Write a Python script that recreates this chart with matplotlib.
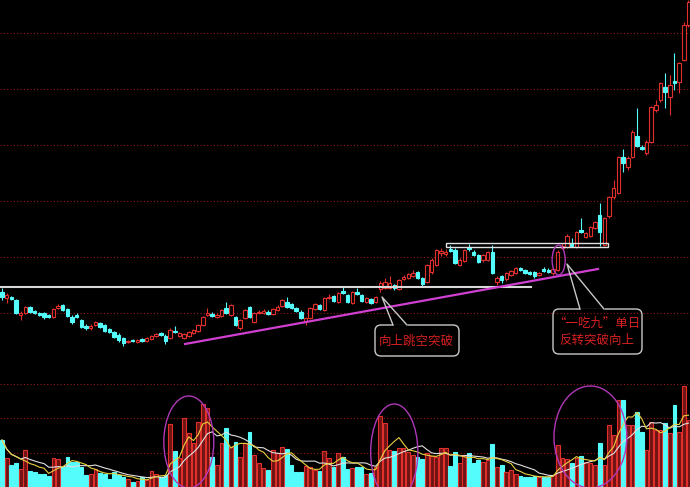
import matplotlib
matplotlib.use("Agg")
import matplotlib.pyplot as plt
from matplotlib.patches import Rectangle, Ellipse, FancyBboxPatch
import numpy as np
import pandas as pd

plt.rcParams['font.family'] = ['Noto Sans CJK SC', 'DejaVu Sans']

# daily bars
opens = [10.8, 10.2, 10.3, 10.0, 8.5, 8.7, 9.3, 8.9, 8.7, 8.7,
         8.5, 8.3, 9.2, 9.5, 9.1, 8.3, 8.5, 8.0, 7.4, 7.2,
         7.5, 7.7, 7.5, 7.1, 6.8, 6.5, 6.2, 5.8, 6.0, 5.8,
         6.1, 5.9, 6.1, 6.4, 6.7, 6.4, 6.2, 6.9, 6.4, 6.2,
         6.4, 6.7, 6.9, 7.5, 8.5, 8.6, 8.3, 8.4, 9.2, 8.5,
         8.3, 7.2, 8.2, 9.3, 7.8, 8.7, 8.7, 8.8, 8.6, 9.0,
         9.4, 9.8, 9.6, 9.2, 8.8, 7.8, 8.2, 9.1, 9.5, 9.0,
         10.2, 10.4, 9.8, 10.9, 10.5, 9.7, 10.8, 10.5, 9.8, 10.1,
         9.8, 11.1, 11.2, 11.2, 11.5, 11.1, 12.1, 12.2, 12.4, 12.8,
         12.2, 11.8, 12.8, 13.5, 14.7, 14.6, 15.1, 15.0, 13.5, 13.9,
         15.3, 14.8, 14.5, 14.0, 14.0, 14.8, 11.8, 12.4, 12.1, 12.5,
         12.7, 13.2, 13.0, 12.8, 12.8, 12.5, 13.1, 13.0, 12.7, 13.0,
         15.2, 15.3, 15.6, 15.3, 17.0, 16.3, 16.4, 17.2, 18.5, 15.5,
         18.4, 20.3, 20.7, 24.3, 23.3, 24.3, 26.4, 25.3, 24.7, 25.8,
         29.0, 30.0, 31.3, 30.3, 31.9, 31.8, 34.0, 37.5]
closes = [10.3, 10.5, 10.1, 8.7, 8.7, 9.3, 8.8, 8.7, 8.5, 8.3,
          8.3, 9.1, 9.4, 9.0, 8.4, 7.8, 8.3, 7.3, 7.2, 7.4,
          7.8, 7.3, 6.9, 6.8, 6.3, 6.0, 5.7, 5.9, 5.9, 6.0,
          5.9, 6.2, 6.4, 6.6, 6.5, 5.9, 7.0, 6.8, 6.7, 6.6,
          6.8, 7.0, 7.5, 8.3, 8.7, 8.4, 8.5, 9.0, 8.7, 9.5,
          7.5, 8.0, 9.0, 8.3, 8.7, 8.8, 8.9, 8.6, 9.1, 9.3,
          10.0, 9.3, 9.2, 8.9, 8.2, 8.2, 9.2, 9.6, 9.1, 10.2,
          10.3, 9.9, 10.7, 10.7, 9.8, 10.8, 10.6, 9.9, 10.2, 9.7,
          10.3, 11.7, 11.8, 11.7, 11.2, 12.0, 12.3, 12.6, 12.7, 12.2,
          11.6, 13.5, 14.0, 15.0, 14.9, 14.8, 14.9, 13.7, 14.0, 15.0,
          15.1, 14.5, 13.8, 14.5, 14.8, 12.7, 12.2, 12.0, 12.7, 12.9,
          13.2, 13.0, 12.7, 12.6, 12.4, 12.7, 12.9, 12.8, 13.1, 14.8,
          15.4, 16.4, 15.4, 16.8, 16.8, 16.7, 17.3, 17.8, 16.8, 18.2,
          20.3, 21.2, 24.3, 23.7, 24.2, 26.8, 25.4, 25.1, 25.8, 29.3,
          29.5, 31.7, 30.8, 31.5, 31.7, 33.7, 37.5, 39.8]
highs = [11.2, 10.7, 10.4, 10.1, 8.9, 9.4, 9.4, 9.0, 8.8, 8.8,
         8.6, 9.2, 9.6, 9.6, 9.2, 8.5, 8.7, 8.1, 7.6, 7.6,
         7.9, 7.8, 7.6, 7.2, 6.9, 6.7, 6.3, 6.0, 6.1, 6.1,
         6.2, 6.3, 6.5, 6.7, 6.8, 6.6, 7.2, 7.4, 6.8, 6.7,
         6.9, 7.1, 7.6, 8.4, 9.2, 8.8, 8.7, 9.1, 9.8, 9.6,
         8.4, 8.1, 9.1, 9.4, 8.8, 9.0, 9.1, 9.0, 9.2, 9.5,
         10.1, 10.3, 9.7, 9.3, 9.0, 8.3, 9.3, 9.7, 9.6, 10.3,
         10.6, 10.5, 10.8, 11.3, 10.6, 10.9, 11.2, 10.6, 10.3, 10.2,
         10.4, 11.9, 12.2, 12.4, 11.6, 12.1, 12.5, 12.7, 13.0, 12.9,
         12.3, 13.6, 14.2, 15.1, 15.2, 15.1, 15.5, 15.2, 14.2, 15.1,
         15.6, 15.0, 14.6, 14.6, 14.9, 15.5, 12.4, 12.5, 12.8, 13.0,
         13.3, 13.3, 13.1, 12.9, 12.9, 12.8, 13.3, 13.2, 13.2, 15.0,
         15.7, 16.6, 16.2, 16.9, 18.2, 16.8, 17.4, 17.9, 19.7, 18.3,
         20.4, 22.0, 24.4, 25.1, 24.4, 27.0, 29.2, 25.5, 26.0, 29.4,
         30.0, 31.8, 32.7, 32.5, 34.7, 33.8, 37.8, 40.0]
lows = [10.0, 9.7, 10.0, 8.6, 8.0, 8.6, 8.7, 8.6, 8.4, 8.1,
        8.2, 8.2, 9.1, 8.9, 8.3, 7.6, 8.2, 7.2, 7.0, 7.0,
        7.4, 7.2, 6.8, 6.7, 6.2, 5.8, 5.4, 5.7, 5.8, 5.7,
        5.8, 5.8, 6.0, 6.3, 6.4, 5.6, 6.1, 6.7, 6.3, 6.1,
        6.3, 6.6, 6.8, 7.4, 8.4, 8.3, 8.2, 8.3, 8.6, 8.4,
        7.4, 7.0, 8.1, 8.2, 7.7, 8.6, 8.6, 8.5, 8.5, 8.9,
        9.3, 9.2, 9.1, 8.8, 8.1, 7.5, 8.1, 9.0, 9.0, 8.9,
        10.1, 9.8, 9.7, 10.6, 9.7, 9.6, 10.5, 9.8, 9.7, 9.6,
        9.7, 10.8, 11.1, 11.1, 11.0, 11.0, 12.0, 12.1, 12.3, 12.1,
        11.3, 11.7, 12.6, 13.4, 14.4, 14.4, 14.8, 13.6, 13.4, 13.8,
        14.9, 14.4, 13.7, 13.8, 13.9, 12.6, 11.5, 11.7, 11.9, 12.4,
        12.6, 12.9, 12.6, 12.5, 12.2, 12.4, 12.8, 12.7, 12.5, 12.9,
        15.1, 15.2, 15.3, 15.2, 16.7, 16.2, 16.3, 17.1, 15.4, 15.4,
        18.2, 20.1, 20.6, 22.8, 23.0, 24.2, 25.3, 25.0, 24.5, 25.7,
        28.8, 29.8, 29.2, 28.5, 31.0, 30.7, 33.9, 37.3]
volumes = [47, 29, 22, 24, 18, 37, 16, 15, 13, 13,
           11, 29, 28, 20, 30, 25, 25, 20, 12, 13,
           18, 14, 13, 8, 15, 12, 10, 8, 5, 6,
           10, 7, 16, 13, 10, 12, 63, 36, 29, 69,
           54, 44, 65, 83, 79, 30, 22, 44, 59, 40,
           45, 30, 44, 55, 32, 24, 19, 17, 37, 34,
           40, 38, 22, 15, 15, 21, 20, 17, 16, 36,
           29, 20, 34, 30, 18, 19, 20, 20, 13, 14,
           20, 71, 64, 37, 36, 39, 39, 35, 32, 30,
           28, 34, 31, 30, 39, 39, 21, 35, 24, 32,
           34, 24, 27, 25, 27, 43, 20, 22, 15, 17,
           13, 11, 10, 10, 11, 10, 10, 10, 12, 42,
           29, 28, 24, 29, 31, 25, 24, 22, 44, 22,
           62, 52, 87, 87, 62, 62, 75, 55, 37, 65,
           57, 57, 64, 54, 82, 55, 101, 67]

# hand-drawn marks on the chart
support_level = 11.3
support_end = 113.5
trend_x = [39.2, 127.6]
trend_y = [5.6, 13.1]
box_x = (95.1, 129.8)
box_y = (15.3, 15.7)
note_1 = "向上跳空突破"
note_2 = "“一吃九”单日\n反转突破向上"

RED = '#e0302c'
RED_FILL = '#6e1414'
CYAN = '#54fcfc'
GRID = '#9a1818'
TEXT_RED = '#d42020'
PURPLE = '#b038b8'
GREY = '#c8c8c8'

n = len(closes)
x = np.arange(n)
up = np.array(closes) >= np.array(opens)
edge = [RED if u else CYAN for u in up]
face = ['black' if u else CYAN for u in up]
vface = [RED_FILL if u else CYAN for u in up]

fig = plt.figure(figsize=(6.9, 4.87), dpi=100, facecolor='black')
ax = fig.add_axes([0, 107 / 487, 1, 380 / 487])
axv = fig.add_axes([0, 0, 1, 107 / 487])
xlim = (-2 / 4.67, 688 / 4.67)

for a in (ax, axv):
    a.set_facecolor('black')
    a.set_xlim(*xlim)
    a.set_xticks([])
    a.set_yticks([])
    for s in a.spines.values():
        s.set_visible(False)

ax.set_ylim(2.0, 40.0)
axv.set_ylim(0, 107)

for lvl in [8.7, 14.3, 19.9, 25.5, 31.1, 36.7]:
    ax.axhline(lvl, color=GRID, lw=0.8, ls=(0, (1, 2)), zorder=0)
for lvl in [34, 69, 103]:
    axv.axhline(lvl, color=GRID, lw=0.8, ls=(0, (1, 2)), zorder=0)

# candles
ax.vlines(x, lows, highs, colors=edge, lw=0.8, zorder=2)
for i in range(n):
    lo = min(opens[i], closes[i])
    h = max(abs(closes[i] - opens[i]), 0.1)
    ax.add_patch(Rectangle((i - 0.37, lo), 0.74, h, facecolor=face[i],
                           edgecolor=edge[i], lw=0.8, zorder=3))

# annotations on price panel
ax.hlines(support_level, xlim[0], support_end, color='#d8d8d8', lw=1.5, zorder=4)
ax.add_patch(Rectangle((box_x[0], box_y[0]), box_x[1] - box_x[0], box_y[1] - box_y[0],
                       facecolor='none', edgecolor='#e0e0e0', lw=1, zorder=4))
ax.plot(trend_x, trend_y, color='#d040d0', lw=1.6, zorder=4)
ax.add_patch(Ellipse((119.2, 14.0), 2.8, 3.0, facecolor='none', edgecolor=PURPLE, lw=1, zorder=5))

# volume panel
axv.bar(x, volumes, width=0.8, color=vface, edgecolor=edge, lw=0.8, zorder=2)
vol = pd.Series(volumes, dtype=float)
axv.plot(x, vol.rolling(10, min_periods=1).mean(), color='#e0e0e0', lw=0.8, zorder=3)
axv.plot(x, vol.rolling(5, min_periods=1).mean(), color='#e8d040', lw=0.8, zorder=3)
for cx, cy, w, h in [(40.0, 45, 10.7, 92), (84.0, 35, 10.1, 96), (126.0, 50, 15.6, 102)]:
    axv.add_patch(Ellipse((cx, cy), w, h, facecolor='none', edgecolor=PURPLE, lw=1, zorder=4))

# callouts, drawn in pixel space
ov = fig.add_axes([0, 0, 1, 1])
ov.set_xlim(0, 690)
ov.set_ylim(487, 0)
ov.axis('off')
ov.patch.set_alpha(0)

ov.add_patch(FancyBboxPatch((375, 325), 84, 31, boxstyle='round,pad=0,rounding_size=6',
                            facecolor='none', edgecolor=GREY, lw=1))
ov.plot([394, 406], [325, 325], color='black', lw=2)
ov.plot([393, 382, 407], [325, 297, 325], color=GREY, lw=1)
ov.text(416, 341, note_1, color=TEXT_RED, fontsize=9, ha='center', va='center')

ov.add_patch(FancyBboxPatch((553, 309), 89, 45, boxstyle='round,pad=0,rounding_size=6',
                            facecolor='none', edgecolor=GREY, lw=1))
ov.plot([581, 603], [309, 309], color='black', lw=2)
ov.plot([580, 567, 604], [309, 264, 309], color=GREY, lw=1)
ov.text(597, 332, note_2, color=TEXT_RED, fontsize=9, ha='center', va='center',
        linespacing=1.35)

fig.savefig('out.png', dpi=100, facecolor='black')
